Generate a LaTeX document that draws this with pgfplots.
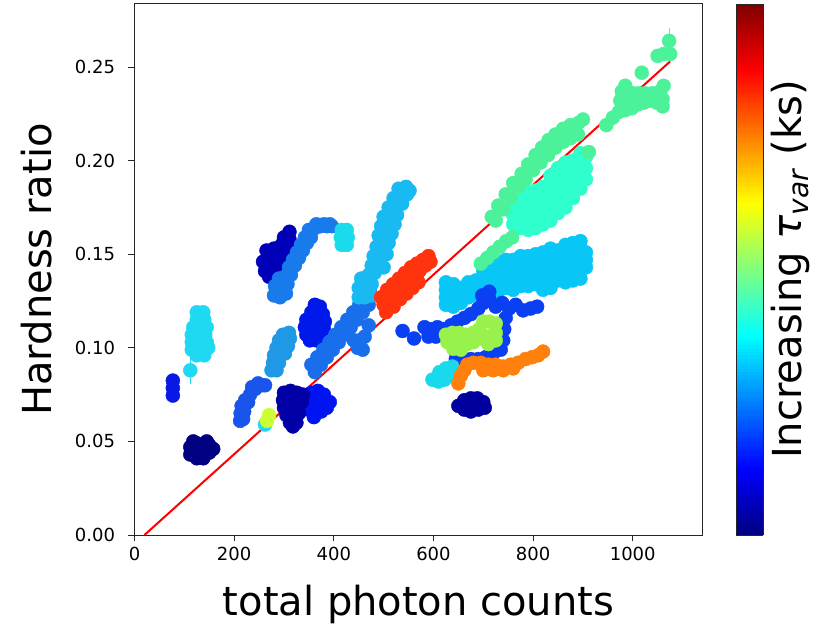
\documentclass[border=0pt]{standalone}
\usepackage{fontspec}
\setmainfont{DejaVu Sans}
\usepackage{pgfplots}
\pgfplotsset{compat=1.18}
\definecolor{cA}{rgb}{0,0,0.5}
\definecolor{cB}{rgb}{0.03,0.1,0.9}
\definecolor{cC}{rgb}{0.12,0.85,0.95}
\definecolor{cD}{rgb}{0.1,0.33,0.92}
\definecolor{cE}{rgb}{0.8,1,0.2}
\definecolor{cF}{rgb}{0,0,0.65}
\definecolor{cG}{rgb}{0,0.08,0.95}
\definecolor{cH}{rgb}{0.12,0.6,0.9}
\definecolor{cI}{rgb}{0,0.1,0.92}
\definecolor{cJ}{rgb}{0.1,0.43,0.92}
\definecolor{cK}{rgb}{0,0,0.72}
\definecolor{cL}{rgb}{0.1,0.48,0.92}
\definecolor{cM}{rgb}{0.1,0.86,0.92}
\definecolor{cN}{rgb}{0.1,0.73,0.95}
\definecolor{cR}{rgb}{1,0.2,0.05}
\definecolor{cO}{rgb}{0.03,0.78,0.97}
\definecolor{cP}{rgb}{0.04,0.25,0.95}
\definecolor{cQ}{rgb}{0.6,0.95,0.3}
\definecolor{cOr}{rgb}{1,0.5,0.05}
\definecolor{cS}{rgb}{0.1,0.85,0.93}
\definecolor{cT}{rgb}{0,0,0.62}
\definecolor{cU}{rgb}{0.3,0.95,0.6}
\definecolor{cV}{rgb}{0.18,1,0.8}
\begin{document}
\begin{tikzpicture}
\pgfplotsset{cl/.style={only marks, mark=*, mark size=7pt, color=#1, mark options={draw=#1, fill=#1}}}
\begin{axis}[name=main,
  scale only axis, width=568pt, height=531pt,
  xmin=0, xmax=1140, ymin=0, ymax=0.2837,
  xtick={0,200,400,600,800,1000},
  ytick={0,0.05,0.1,0.15,0.2,0.25},
  scaled y ticks=false, scaled x ticks=false,
  /pgf/number format/assume math mode=true,
  tick label style={font=\fontsize{18}{21}\selectfont},
  xticklabel style={yshift=-3pt, /pgf/number format/1000 sep={}},
  yticklabel style={xshift=-10pt, /pgf/number format/fixed, /pgf/number format/fixed zerofill, /pgf/number format/precision=2},
  tick align=outside, tick pos=left, major tick length=6pt,
  every tick/.style={black!85, line width=1pt},
  axis line style={black!85, line width=1pt},
  xlabel={total photon counts}, ylabel={Hardness ratio},
  xlabel style={font=\fontsize{40}{46}\selectfont, at={(axis description cs:0.5,0)}, anchor=base, yshift=-80pt, inner sep=0pt},
  ylabel style={font=\fontsize{40}{46}\selectfont, at={(axis description cs:-0.145,0.5)}, anchor=south, rotate=0, inner sep=0pt},
  colormap/jet, colorbar sampled, point meta min=0, point meta max=1,
  colorbar style={at={(parent axis.north east)}, anchor=north west, xshift=25pt, samples=160,
    scale only axis, width=27pt, height=531pt, ytick=\empty, axis line style={black!85, line width=0.8pt},
    ylabel={Increasing \textit{τ}\textsubscript{\textit{var}} (ks)},
    ylabel style={font=\fontsize{40}{46}\selectfont, at={(axis description cs:1.3,0.5)}, anchor=north, rotate=0, inner sep=0pt}},
]
% A navy
\addplot[cl=cA] coordinates {(112,0.047) (112,0.043) (125,0.049) (125,0.045) (125,0.041) (138,0.048) (138,0.044) (138,0.041) (150,0.048) (150,0.044) (158,0.046) (118,0.050) (145,0.050)};
% B
\addplot[cl=cB] coordinates {(77,0.0745) (77,0.0785) (77,0.0825)};
% C cyan
\addplot[cl=cC] coordinates {(125,0.119) (138,0.119) (125,0.115) (140,0.115) (118,0.111) (132,0.111) (145,0.111) (115,0.107) (128,0.107) (142,0.107) (115,0.103) (130,0.103) (145,0.103) (115,0.099) (128,0.099) (142,0.099) (148,0.100) (125,0.096) (140,0.096)};
\addplot[cl=cC, error bars/.cd, y dir=both, y explicit, error bar style={line width=1pt}, error mark options={mark size=4pt, line width=1pt}] coordinates {(112,0.088) +- (0,0.0053)};
% D
\addplot[cl=cD] coordinates {(212,0.061) (213,0.065) (215,0.069) (222,0.072) (232,0.075) (242,0.078) (255,0.080) (262,0.080) (248,0.081) (228,0.071) (220,0.066) (218,0.062) (236,0.079)};
% E
\addplot[cl=cC] coordinates {(262,0.059)};
\addplot[cl=cE] coordinates {(270,0.064) (266,0.061)};
% G
\addplot[cl=cG] coordinates {(355,0.076) (368,0.077) (380,0.075) (355,0.072) (368,0.071) (382,0.071) (392,0.071) (350,0.067) (362,0.066) (375,0.066) (360,0.063) (386,0.068)};
% F
\addplot[cl=cF] coordinates {(300,0.076) (313,0.077) (326,0.076) (338,0.075) (298,0.072) (310,0.072) (323,0.072) (336,0.071) (300,0.068) (312,0.068) (325,0.068) (305,0.064) (318,0.064) (330,0.065) (312,0.060) (325,0.060) (318,0.058)};
% H
\addplot[cl=cH] coordinates {(275,0.088) (285,0.088) (278,0.092) (290,0.092) (280,0.096) (292,0.096) (302,0.097) (285,0.100) (297,0.100) (308,0.101) (290,0.104) (302,0.104) (312,0.105) (298,0.107) (310,0.108)};
% I
\addplot[cl=cI] coordinates {(362,0.123) (372,0.122) (355,0.119) (368,0.119) (378,0.118) (345,0.115) (358,0.115) (372,0.115) (382,0.114) (342,0.111) (355,0.111) (368,0.111) (380,0.110) (345,0.107) (358,0.107) (370,0.107) (352,0.104) (365,0.104)};
% K
\addplot[cl=cK] coordinates {(311,0.162) (311,0.158) (311,0.154) (311,0.150) (300,0.151) (285,0.150) (270,0.149) (258,0.146) (272,0.145) (285,0.145) (298,0.146) (262,0.141) (275,0.140) (290,0.141) (270,0.138) (300,0.142) (265,0.152) (280,0.153) (295,0.155) (300,0.159) (280,0.137) (292,0.137) (305,0.138)};
% L
\addplot[cl=cL] coordinates {(280,0.128) (292,0.127) (304,0.129) (282,0.133) (295,0.132) (307,0.134) (290,0.137) (302,0.138) (314,0.139) (310,0.143) (322,0.144) (318,0.147) (330,0.148) (326,0.151) (338,0.152) (334,0.155) (346,0.156) (342,0.159) (354,0.159) (350,0.163) (362,0.164) (374,0.165) (386,0.165) (396,0.165) (365,0.166) (380,0.166) (392,0.166)};
% M
\addplot[cl=cM] coordinates {(416,0.163) (426,0.163) (414,0.159) (428,0.159) (416,0.155) (426,0.155)};
% J
\addplot[cl=cJ] coordinates {(355,0.091) (367,0.095) (379,0.099) (391,0.103) (403,0.107) (415,0.111) (427,0.115) (439,0.119) (451,0.123) (463,0.127) (472,0.131)
(362,0.087) (374,0.091) (386,0.095) (398,0.099) (410,0.103) (422,0.107) (434,0.111) (446,0.115) (458,0.119) (470,0.123)
(440,0.104) (452,0.104) (462,0.106) (448,0.100) (458,0.099) (470,0.112)};
% N
\addplot[cl=cN] coordinates {(450,0.127) (462,0.127) (474,0.128) (450,0.132) (464,0.133) (476,0.134) (455,0.137) (470,0.139) (482,0.140) (476,0.144) (490,0.144) (500,0.143) (480,0.149) (494,0.149) (506,0.150) (486,0.154) (500,0.155) (510,0.156) (490,0.160) (504,0.161) (516,0.161) (495,0.165) (510,0.166) (522,0.166) (500,0.170) (514,0.171) (527,0.171) (510,0.175) (524,0.176) (537,0.177) (520,0.180) (534,0.181) (547,0.182) (530,0.185) (545,0.186) (552,0.184)};
% red
\addplot[cl=cR] coordinates {(495,0.127) (507,0.131) (519,0.134) (531,0.137) (543,0.140) (555,0.143) (567,0.145) (579,0.147) (590,0.149)
(500,0.123) (512,0.126) (524,0.129) (536,0.132) (548,0.135) (560,0.138) (572,0.141) (584,0.144) (594,0.146)
(505,0.119) (520,0.122) (533,0.126) (546,0.129) (558,0.132) (570,0.135)};
% O
\addplot[cl=cO] coordinates {(625,0.123) (625,0.127) (625,0.131) (625,0.135)
(640,0.122) (640,0.126) (640,0.130) (640,0.134)
(655,0.124) (655,0.128) (655,0.132)
(670,0.127) (670,0.131) (670,0.135)
(685,0.128) (685,0.132) (685,0.136)
(700,0.129) (700,0.133) (700,0.137) (700,0.141)
(715,0.130) (715,0.134) (715,0.138) (715,0.142) (715,0.146)
(730,0.130) (730,0.134) (730,0.138) (730,0.142) (730,0.146)
(745,0.132) (745,0.136) (745,0.140) (745,0.143) (745,0.147)
(760,0.131) (760,0.135) (760,0.139) (760,0.143) (760,0.147)
(775,0.133) (775,0.137) (775,0.141) (775,0.145) (775,0.149)
(790,0.133) (790,0.137) (790,0.141) (790,0.145) (790,0.149)
(805,0.134) (805,0.138) (805,0.142) (805,0.146) (805,0.150)
(820,0.131) (820,0.135) (820,0.139) (820,0.143) (820,0.147) (820,0.151)
(835,0.132) (835,0.136) (835,0.140) (835,0.145) (835,0.149) (835,0.153)
(850,0.136) (850,0.140) (850,0.144) (850,0.148) (850,0.152)
(865,0.135) (865,0.139) (865,0.143) (865,0.147) (865,0.151) (865,0.155)
(880,0.136) (880,0.140) (880,0.144) (880,0.148) (880,0.152) (880,0.156)
(895,0.137) (895,0.141) (895,0.145) (895,0.149) (895,0.153) (895,0.157)
(906,0.143) (906,0.147) (906,0.151)};
% P
\addplot[cl=cP] coordinates {(538,0.109) (561,0.105) (582,0.111) (595,0.110) (608,0.111) (590,0.106) (605,0.106) (620,0.110) (635,0.112) (648,0.114) (662,0.116) (675,0.118) (690,0.121) (700,0.124) (712,0.126) (725,0.122) (738,0.124) (752,0.121) (765,0.123) (780,0.120) (795,0.121) (808,0.122) (745,0.116) (742,0.110) (740,0.104) (735,0.099) (720,0.097) (705,0.095) (690,0.094) (675,0.094) (660,0.094) (645,0.094) (642,0.099) (698,0.128) (712,0.130)};
% S
\addplot[cl=cS] coordinates {(598,0.083) (610,0.082) (622,0.083) (612,0.087) (625,0.089) (638,0.090) (640,0.085)};
% T
\addplot[cl=cT] coordinates {(650,0.069) (662,0.072) (675,0.073) (688,0.073) (700,0.071) (662,0.067) (675,0.066) (690,0.067) (703,0.068)};
% orange
\addplot[cl=cOr] coordinates {(650,0.081) (655,0.085) (662,0.088) (668,0.091) (680,0.092) (695,0.092) (710,0.091) (725,0.091) (740,0.090) (755,0.091) (770,0.092) (785,0.094) (798,0.095) (810,0.096) (820,0.098) (700,0.088) (720,0.088) (740,0.088) (760,0.089)};
% Q
\addplot[cl=cQ] coordinates {(625,0.107) (638,0.108) (652,0.108) (665,0.107) (628,0.103) (642,0.103) (655,0.103) (668,0.102) (640,0.0995) (655,0.099) (680,0.103) (680,0.108) (692,0.110) (700,0.114) (712,0.114) (725,0.113) (695,0.105) (710,0.106) (725,0.108) (710,0.102) (725,0.104)};
% V aquamarine
\addplot[cl=cV] coordinates {(760,0.166) (760,0.171) (760,0.176)
(775,0.164) (775,0.169) (775,0.174) (775,0.179)
(790,0.163) (790,0.168) (790,0.173) (790,0.178) (790,0.183)
(805,0.164) (805,0.169) (805,0.174) (805,0.179) (805,0.184)
(820,0.166) (820,0.171) (820,0.176) (820,0.181) (820,0.186)
(835,0.168) (835,0.173) (835,0.178) (835,0.183) (835,0.188) (835,0.192)
(850,0.172) (850,0.177) (850,0.182) (850,0.187) (850,0.192) (850,0.196)
(865,0.175) (865,0.180) (865,0.185) (865,0.190) (865,0.195) (865,0.199)
(880,0.180) (880,0.185) (880,0.190) (880,0.195) (880,0.200)
(895,0.185) (895,0.190) (895,0.195) (895,0.200) (895,0.204)
(906,0.190) (906,0.196) (906,0.202)};
% U green
\addplot[cl=cU] coordinates {(695,0.145) (708,0.148) (720,0.151) (733,0.154) (746,0.157) (758,0.159)
(717,0.170) (730,0.176) (745,0.182) (760,0.188) (777,0.193) (790,0.198) (805,0.203) (818,0.207) (831,0.211) (845,0.214) (860,0.217) (875,0.219) (890,0.220) (900,0.222)
(725,0.168) (740,0.174) (755,0.180) (770,0.186) (785,0.190) (800,0.195) (815,0.199) (830,0.203) (845,0.207) (860,0.210) (875,0.212) (890,0.214) (912,0.2046)
(947,0.219) (960,0.223) (972,0.226) (985,0.227) (998,0.228) (1010,0.230) (1022,0.231) (1035,0.232) (1048,0.231) (1060,0.233) (975,0.232) (988,0.234) (1000,0.236) (1012,0.236) (1025,0.236) (1040,0.236) (1055,0.237) (1062,0.240) (1060,0.229) (985,0.240) (978,0.237) (1018,0.247) (1050,0.256) (1062,0.257) (1075,0.257)};
\addplot[cl=cU, error bars/.cd, y dir=both, y explicit, error bar style={line width=1pt}, error mark options={mark size=4pt, line width=1pt}] coordinates {(1073,0.264) +- (0,0.005)};
% fit line
\addplot[red, line width=2pt] coordinates {(20,0) (1075,0.253)};
\end{axis}
\pgfresetboundingbox
\path[use as bounding box] ([xshift=-134.5pt,yshift=-94pt]main.south west) rectangle ++(816pt,629pt);
\end{tikzpicture}
\end{document}
